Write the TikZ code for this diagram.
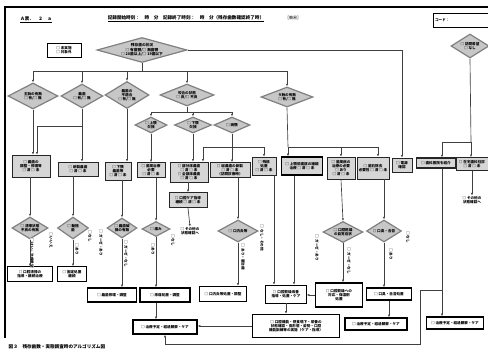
\documentclass[tikz,border=0pt]{standalone}
\usepackage{fontspec}
\setmainfont{Noto Sans CJK JP}
\usetikzlibrary{shapes.geometric,arrows.meta}
\tikzset{every node/.style={font=\fontsize{3.6}{4.1}\selectfont\bfseries,inner sep=0.4pt,align=center}}
\tikzset{sz/.style 2 args={minimum width=#1pt,minimum height=#2pt}}
\tikzset{dia/.style={diamond,draw=black!50,line width=1.2pt,fill=black!22,inner sep=0pt}}
\tikzset{gbox/.style={rectangle,draw=black!85,line width=0.7pt,fill=black!16}}
\tikzset{wbox/.style={rectangle,draw=black,line width=0.6pt,fill=white}}
\tikzset{tbox/.style={rectangle,draw=black,line width=1.5pt,fill=white}}
\tikzset{vl/.style={rotate=-90,fill=white}}
\tikzset{arr/.style={-{Latex[length=2.6pt,width=2.2pt]}}}

\begin{document}
\begin{tikzpicture}[x=1pt,y=-1pt,line width=0.65pt,draw=black!75]
      \useasboundingbox (0,0) rectangle (488,352);
      \draw[black,line width=1.6pt] (5,338) -- (5,7) -- (488,7);
      \node[font=\fontsize{4.5}{5}\selectfont\bfseries] (hA) at (36,20) {\underline{Ａ票．　２　ａ}};
      \node[font=\fontsize{4.6}{5}\selectfont\bfseries] (hB) at (186,19) {\underline{記録開始時刻：　時　分　記録終了時刻：　時　分（残存歯数確認終了時）}};
      \node[font=\fontsize{4}{5}\selectfont] (hC) at (293,18) {［簡易］};
      \node[wbox,sz={55}{14},line width=0.5pt,text width=51pt,align=left] (code) at (460.5,20) {コード：};
      \node[dia,sz={90}{25},shape aspect=3.6,font=\fontsize{3.7}{4.3}\selectfont\bfseries] (d0) at (142,50) {残存歯の状況\\□ 有歯顎/□ 無歯顎\\□ 20歯以上/□ 19歯以下};
      \node[wbox,sz={34}{14},line width=0.5pt] (n0) at (64,50) {□ 未実施\\□ 対象外};
      \node[dia,sz={38}{24},shape aspect=1.6] (dR) at (470,46) {□ 訪問希望\\□ なし};
      \node[dia,sz={50}{26},shape aspect=1.9] (d1) at (33,96) {主訴の有無\\□ 有/□ 無};
      \node[dia,sz={42}{24},shape aspect=1.75] (d2) at (82,96) {義歯\\□ 有/□ 無};
      \node[dia,sz={44}{27},shape aspect=1.6] (d3) at (127,95) {義歯の\\不適合\\□ 有/□ 無};
      \node[dia,sz={54}{22},shape aspect=2.45] (d4) at (187,95) {咬合の状態\\□ 良/□ 不良};
      \node[dia,sz={52}{20},shape aspect=2.6] (d5) at (287,97) {う蝕の有無\\□ 有/□ 無};
      \node[dia,sz={32}{16},shape aspect=2] (sa) at (151,125) {□ 上顎\\欠損};
      \node[dia,sz={37}{16},shape aspect=2.3] (sb) at (193,125) {□ 下顎\\欠損};
      \node[dia,sz={36}{16},shape aspect=2.25] (sc) at (232,125) {□ 両顎};
      \node[gbox,sz={38}{22}] (b1) at (31,166) {□ 義歯の\\調整・修理等\\□ 済 □ 未};
      \node[gbox,sz={40}{14}] (b2) at (78,169) {□ 新製義歯\\□ 済 □ 未};
      \node[gbox,sz={26}{18}] (b3) at (118,171) {□ 下顎\\義歯等\\□ 済 □ 未};
      \node[gbox,sz={28}{15}] (b4) at (151,170) {□ 歯周治療\\必要\\□ 済 □ 未};
      \node[gbox,sz={38}{20}] (b5) at (189,172) {□ 部分床義歯\\□ 済 □ 未\\□ 全部床義歯\\□ 済 □ 未};
      \node[gbox,sz={40}{15}] (b6) at (230,170) {□ 総義歯の新製\\□ 済 □ 未\\（訪問診療時）};
      \node[gbox,sz={24}{18}] (b7) at (264,166) {□ 残根\\処置\\□ 済 □ 未};
      \node[gbox,sz={41}{18},draw=black,line width=1.4pt] (b8) at (302,166) {□ 上顎前歯部の補綴\\治療 □ 済 □ 未};
      \node[gbox,sz={28}{22}] (b9) at (341,168) {□ 歯周病の\\治療の必要\\□ あり\\□ 済 □ 未};
      \node[gbox,sz={32}{22}] (b10) at (373,168) {□ 歯石除去\\必要性 □ 済 □ 未};
      \node[gbox,sz={20}{14}] (b11) at (402,165) {□ 電源\\確認};
      \node[gbox,sz={39}{10},line width=1.2pt] (b12) at (436,163) {□ 歯科医院を紹介};
      \node[gbox,sz={32}{13}] (b13) at (472,164) {□ 在宅歯科往診\\□ 済 □ 未};
      \node[gbox,sz={38}{15}] (F) at (188,200) {□ 口腔ケア指導\\継続 □ 済 □ 未};
      \node (T1) at (190,231) {□ その他の\\状態確認へ};
      \node (T2) at (472,200) {□ その他の\\状態確認へ};
      \node[dia,sz={36}{22},shape aspect=1.65] (dA) at (30,228) {□ 清掃状態\\不良の有無};
      \node[dia,sz={31}{22},shape aspect=1.4] (dB) at (73,228) {□ 動揺\\歯};
      \node[dia,sz={30}{20},shape aspect=1.5] (dC) at (122,228) {□ 義歯破\\損の有無};
      \node[dia,sz={28}{15},shape aspect=1.9] (dD) at (156,229) {□ 痛み};
      \node[dia,sz={40}{22},shape aspect=1.8] (dG) at (238,231) {□ 口内炎等};
      \node[dia,sz={40}{21},shape aspect=1.9] (dJ) at (343,232) {□ 口腔乾燥\\の自覚症状};
      \node[dia,sz={35}{22},shape aspect=1.6] (dL) at (384,231) {□ 口臭・舌苔};
      \node[wbox,sz={45}{15}] (A2) at (30,274) {□ 口腔清掃の\\指導・継続治療};
      \node[wbox,sz={29}{15}] (B2) at (72,274) {□ 固定処置\\継続};
      \node[tbox,sz={49}{14}] (C3) at (112,295) {□ 義歯修理・調整};
      \node[tbox,sz={50}{14}] (D3) at (165,295) {□ 疼痛処置・調整};
      \node[tbox,sz={47}{15}] (H) at (223,294) {□ 口内炎等処置・調整};
      \node[wbox,sz={41}{18}] (I) at (286,294) {□ 口腔乾燥改善\\指導・処置・ケア};
      \node[tbox,sz={47}{24}] (K) at (339,295) {□ 口腔乾燥への\\対応・保湿剤\\処置};
      \node[tbox,sz={45}{12}] (M) at (389,294) {□ 口臭・舌苔処置};
      \node[tbox,sz={64}{14}] (E) at (165,327) {□ 治療予定・経過観察・ケア};
      \node[tbox,sz={87}{23}] (P) at (296,326) {□ 口腔機能・摂食嚥下・栄養の\\状態確認・食形態・姿勢・口腔\\機能訓練等の実施（ケア・指導）};
      \node[tbox,sz={62}{12}] (N) at (376,324) {□ 治療予定・経過観察・ケア};
      \node[tbox,sz={57}{12}] (O) at (455,323) {□ 治療予定・経過観察・ケア};
      \node[vl] (lA1) at (51,240) {□ いいえ};
      \node[vl] (lA2) at (32,253) {□ はい・治療希望};
      \node[vl] (lB1) at (90,236) {□ なし};
      \node[vl] (lB2) at (77,249) {□ あり};
      \node[vl] (lC1) at (101,243) {□ ガーゼ・あり};
      \node[vl] (lC2) at (126,254) {□ ガーゼ・なし};
      \node[vl] (lD1) at (173,240) {□ なし};
      \node[vl] (lD2) at (153,249) {□ あり};
      \node[vl] (lG1) at (262,238) {□ なし・その他};
      \node[vl] (lG2) at (243,257) {□ あり・要治療};
      \node[vl] (lJ1) at (317,248) {□ ガーゼ・あり};
      \node[vl] (lJ2) at (349,261) {□ ガーゼ・なし};
      \node[vl] (lL1) at (408,237) {□ なし};
      \node[vl] (lL2) at (391,254) {□ あり};
      \node[font=\fontsize{4.6}{5}\selectfont\bfseries,anchor=west] (cap) at (8,347) {図３　残存歯数・実態調査時のアルゴリズム図};
      \coordinate (j0) at (142,71);
      \coordinate (j2) at (82,126);
      \coordinate (j4) at (187,112);
      \coordinate (j6) at (232,147);
      \coordinate (j5) at (288,147);
      \coordinate (j7) at (471,142);
      \coordinate (j8) at (442,290);
      \coordinate (j9) at (420,290);
      \coordinate (j10) at (420,344);
      \draw[arr] (d0.east) -| (b11.north);
      \draw (d0.south) -- (j0);
      \foreach \n in {d1,d2,d3,d4,d5}
        \draw[arr] (j0) -| (\n.north);
      \draw[arr] (d1.south) -- (d1.south |- b1.north);
      \draw[arr] (d2.south) -- (d2.south |- b2.north);
      \draw[arr] (j2) -| ([xshift=6pt]b1.north);
      \draw[arr] (d3.south) -- (d3.south |- b3.north);
      \draw (d4.south) -- (j4);
      \foreach \n in {sa,sb,sc}
        \draw[arr] (j4) -| (\n.north);
      \draw[arr] (sa.south) -- (b4.north);
      \draw[arr] (sb.south) -- (sb.south |- b5.north);
      \draw (sc.south) -- (j6);
      \draw[arr] (j6) -- (j6 |- b6.north);
      \draw[arr] (j6) -| ([xshift=14pt]b5.north);
      \draw[arr] (j6) -| (b7.north);
      \draw (d5.south) -- (j5);
      \draw[arr] (j5) -- (j5 |- b8.north);
      \draw[arr] (j5) -| (b9.north);
      \draw[arr] (j5) -| ([xshift=5pt]b10.north);
      \draw (dR.south) -- (j7);
      \draw[arr] (j7) -- (j7 |- b13.north);
      \draw[arr] (j7) -| ([xshift=6pt]b12.north);
      \draw[arr] (b1.south -| dA.north) -- (dA.north);
      \draw[arr] (b2.south -| dB.north) -- (dB.north);
      \draw[arr] (b3.south -| dC.north) -- (dC.north);
      \draw[arr] (b4.south -| dD.north) -- (dD.north);
      \draw[arr] (b5.south -| F.north) -- (F.north);
      \draw[arr] (F.south) -- (T1.north);
      \draw[arr] (b6.south -| dG.north) -- (dG.north);
      \draw[arr] (b9.south) -- (dJ.north);
      \draw[arr] (b10.south -| dL.north) -- (dL.north);
      \draw[arr] ([xshift=6pt]b12.south) -- ([xshift=6pt]b12.south |- O.north);
      \draw[arr] (b13.south) -- (T2.north);
      \draw[arr] (dA.south) -- (A2.north);
      \draw[arr] (dB.south) -- (dB.south |- B2.north);
      \draw[arr] (dC.south) -- (dC.south |- C3.north);
      \draw[arr] (dD.south) -- (dD.south |- D3.north);
      \draw[arr] (dD.south |- D3.south) -- (dD.south |- E.north);
      \draw[arr] (dG.south) -- (dG.south |- H.north);
      \draw[arr] ([xshift=10pt]b7.south) -- ([xshift=10pt]b7.south |- I.north);
      \draw[arr] ([xshift=-8pt]b8.south) -- ([xshift=-8pt]b8.south |- I.north);
      \draw[arr] (dJ.south) -- (dJ.south |- K.north);
      \draw[arr] (K.west) -- (K.west -| I.east);
      \draw[arr] (I.south) -- (I.south |- P.north);
      \draw[arr] (P.west) -- (P.west -| E.east);
      \draw[arr] (dL.south) -- (dL.south |- M.north);
      \draw[arr] (M.south) -- (M.south |- N.north);
      \draw[arr] (j8) -- (j9) -- (j10) -| (E.south);
\end{tikzpicture}
\end{document}
